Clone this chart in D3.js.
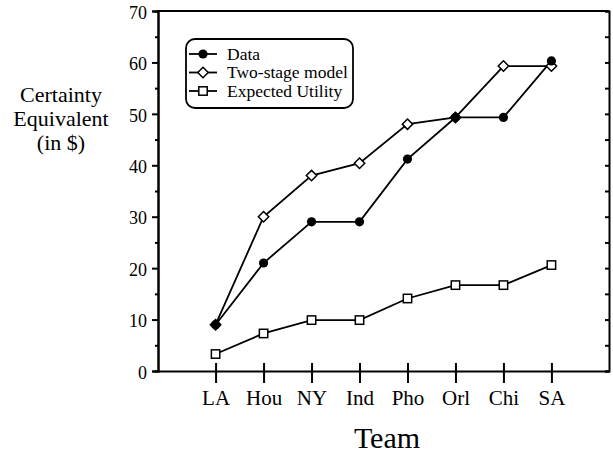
<!DOCTYPE html>
<html>
<head>
<meta charset="utf-8">
<script src="https://cdn.jsdelivr.net/npm/d3@7"></script>
<style>
  body { margin: 0; background: #fff; }
  svg { display: block; font-family: "Liberation Serif", "Times New Roman", serif; }
</style>
</head>
<body>
<svg width="613" height="455"></svg>
<script>
// values
const teams = ["LA", "Hou", "NY", "Ind", "Pho", "Orl", "Chi", "SA"];
const dataVals = [9, 21, 29, 29, 41.2, 49.3, 49.3, 60.3];
const twoStageVals = [9, 30, 38, 40.4, 48, 49.3, 59.3, 59.3];
const euVals = [3.3, 7.3, 9.9, 9.9, 14.1, 16.7, 16.7, 20.6];
const majorTicks = [0, 10, 20, 30, 40, 50, 60, 70];
const minorTicks = [5, 15, 25, 35, 45, 55, 65];
const seriesNames = ["Data", "Two-stage model", "Expected Utility"];

const svg = d3.select("svg");
const plotL = 158, plotR = 609, plotT = 11, plotB = 371;

const x = d3.scalePoint().domain(teams).range([plotL, plotR]).padding(1.2);
const y = d3.scaleLinear().domain([0, 70]).range([plotB, plotT]);

// top frame line
svg.append("line").attr("x1", plotL).attr("x2", plotR).attr("y1", plotT).attr("y2", plotT)
	.attr("stroke", "#000").attr("stroke-width", 2);

// left axis, major
const yAxis = svg.append("g").attr("transform", `translate(${plotL},0)`)
	.call(d3.axisLeft(y).tickValues(majorTicks).tickSize(6).tickFormat(d3.format("d")));
yAxis.selectAll("text").attr("font-size", 18).attr("x", -11).attr("dy", "0.4em")
	.attr("font-family", "Liberation Serif");
// left axis, minor
svg.append("g").attr("transform", `translate(${plotL},0)`)
	.call(d3.axisLeft(y).tickValues(minorTicks).tickSize(3).tickFormat(""));
// right axis, ticks inward
svg.append("g").attr("transform", `translate(${plotR},0)`)
	.call(d3.axisLeft(y).tickValues(majorTicks.concat(minorTicks)).tickSize(4).tickFormat(""));

// bottom axis, ticks cross the line
const xAxis = svg.append("g").attr("transform", `translate(0,${plotB})`)
	.call(d3.axisBottom(x).tickSize(12).tickSizeOuter(0));
xAxis.selectAll(".tick line").attr("y1", -8);
xAxis.selectAll("text").attr("font-size", 21).attr("y", 19).attr("dy", "0.71em")
	.attr("font-family", "Liberation Serif");

svg.selectAll(".domain, .tick line").attr("stroke", "#000").attr("stroke-width", 2);
svg.selectAll(".tick text").attr("fill", "#000");

// axis titles
const yTitle = svg.append("text").attr("text-anchor", "middle").attr("font-size", 22);
["Certainty", "Equivalent", "(in $)"].forEach((t, i) => {
	yTitle.append("tspan").attr("x", 61).attr("y", 102 + i * 24).text(t);
});
svg.append("text").attr("x", 387).attr("y", 448).attr("text-anchor", "middle")
	.attr("font-size", 30).text("Team");

// lines
const line = d3.line().x((d, i) => x(teams[i])).y(d => y(d));
[euVals, twoStageVals, dataVals].forEach(vals => {
	svg.append("path").datum(vals).attr("d", line)
		.attr("fill", "none").attr("stroke", "#000").attr("stroke-width", 1.8);
});

// markers
function square(g, cx, cy) {
	g.append("rect").attr("x", cx - 4.2).attr("y", cy - 4.2).attr("width", 8.4).attr("height", 8.4)
		.attr("fill", "#fff").attr("stroke", "#000").attr("stroke-width", 1.5);
}
function diamond(g, cx, cy) {
	g.append("path").attr("d", `M${cx},${cy - 5.2}L${cx + 5.2},${cy}L${cx},${cy + 5.2}L${cx - 5.2},${cy}Z`)
		.attr("fill", "#fff").attr("stroke", "#000").attr("stroke-width", 1.5);
}
function dot(g, cx, cy) {
	g.append("circle").attr("cx", cx).attr("cy", cy).attr("r", 4.6).attr("fill", "#000");
}
const marks = svg.append("g");
euVals.forEach((v, i) => square(marks, x(teams[i]), y(v)));
twoStageVals.forEach((v, i) => diamond(marks, x(teams[i]), y(v)));
dataVals.forEach((v, i) => dot(marks, x(teams[i]), y(v)));

// legend
const legend = svg.append("g");
legend.append("rect").attr("x", 186).attr("y", 39).attr("width", 167).attr("height", 69)
	.attr("rx", 9).attr("fill", "#fff").attr("stroke", "#000").attr("stroke-width", 1.8);
const markerFns = [dot, diamond, square];
seriesNames.forEach((name, i) => {
	const ly = 54 + i * 18.5;
	legend.append("line").attr("x1", 189).attr("x2", 217).attr("y1", ly).attr("y2", ly)
		.attr("stroke", "#000").attr("stroke-width", 1.8);
	markerFns[i](legend, 203, ly);
	legend.append("text").attr("x", 227).attr("y", ly + 5.5).attr("font-size", 17.5).text(name);
});
</script>
</body>
</html>
